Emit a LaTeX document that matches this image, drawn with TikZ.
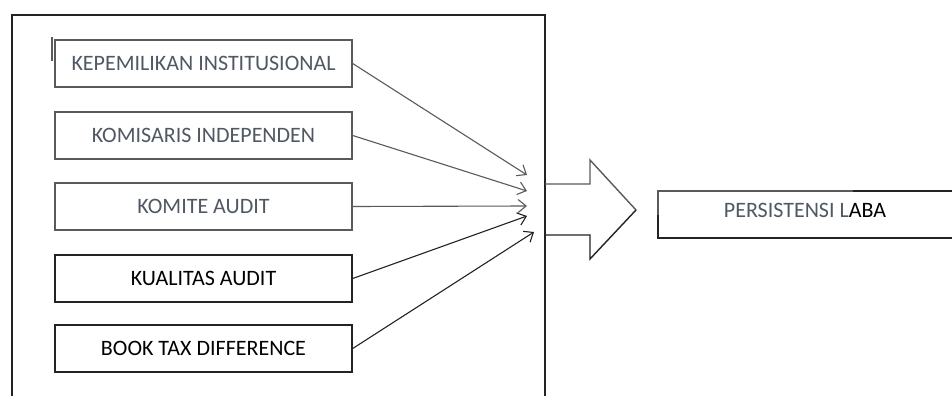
\documentclass[tikz,border=0pt]{standalone}
\usepackage{fontspec}
\setmainfont{Carlito}
\usetikzlibrary{arrows.meta}
\definecolor{softtxt}{RGB}{80,88,98}
\definecolor{softline}{RGB}{90,90,90}
\definecolor{darkline}{RGB}{35,35,35}
\begin{document}
\begin{tikzpicture}[x=1pt,y=-1pt,
  varbox/.style={draw, line width=1.4pt, minimum width=297pt, minimum height=47pt, inner sep=0pt, font=\fontsize{22}{26}\selectfont},
  softbox/.style={varbox, draw=softline, text=softtxt},
  hardbox/.style={varbox, draw=darkline, text=black},
  conn/.style={line width=1.1pt, -{Straight Barb[length=8pt,width=13pt,line width=1.1pt]}},
]
\useasboundingbox (0,0) rectangle (952,396);
\fill[white] (0,0) rectangle (952,396);
% frame
\draw[line width=1.4pt, darkline] (12,396) -- (12,15) -- (545,15) -- (545,396);
% cursor mark
\draw[line width=2pt, softline] (52,37) -- (52,61);
% boxes
\node[softbox] (k1) at (203.5,63.5) {KEPEMILIKAN INSTITUSIONAL};
\node[softbox] (k2) at (203.5,135.5) {KOMISARIS INDEPENDEN};
\node[softbox] (k3) at (203.5,206.5) {KOMITE AUDIT};
\node[hardbox] (k4) at (203.5,278.5) {KUALITAS AUDIT};
\node[hardbox] (k5) at (203.5,348.5) {BOOK TAX DIFFERENCE};
% arrow targets
\coordinate (t1) at (527,175);
\coordinate (t2) at (527,191);
\coordinate (t3) at (527,206);
\coordinate (t4) at (527,216);
\coordinate (t5) at (534,232);
\draw[conn, softline] (k1.east) -- (t1);
\draw[conn, softline] (k2.east) -- (t2);
\draw[conn, softline] (k3.east) -- (t3);
\draw[conn, darkline] (k4.east) -- (t4);
\draw[conn, darkline] (k5.east) -- (t5);
% block arrow
\draw[line width=1.4pt, softline] (545,184) -- (590,184) -- (590,160) -- (636,210);
\draw[line width=1.4pt, darkline] (636,210) -- (590,259) -- (590,235) -- (545,235);
% result box
\draw[line width=1.4pt, softline] (853,191) -- (658,191) -- (658,215);
\draw[line width=1.4pt, darkline] (853,191) -- (952,191);
\draw[line width=1.4pt, darkline] (658,215) -- (658,238) -- (952,238);
\node[font=\fontsize{22}{26}\selectfont, inner sep=0pt] (res) at (805,210) {\textcolor{softtxt}{PERSISTENSI L}ABA};
\end{tikzpicture}
\end{document}
